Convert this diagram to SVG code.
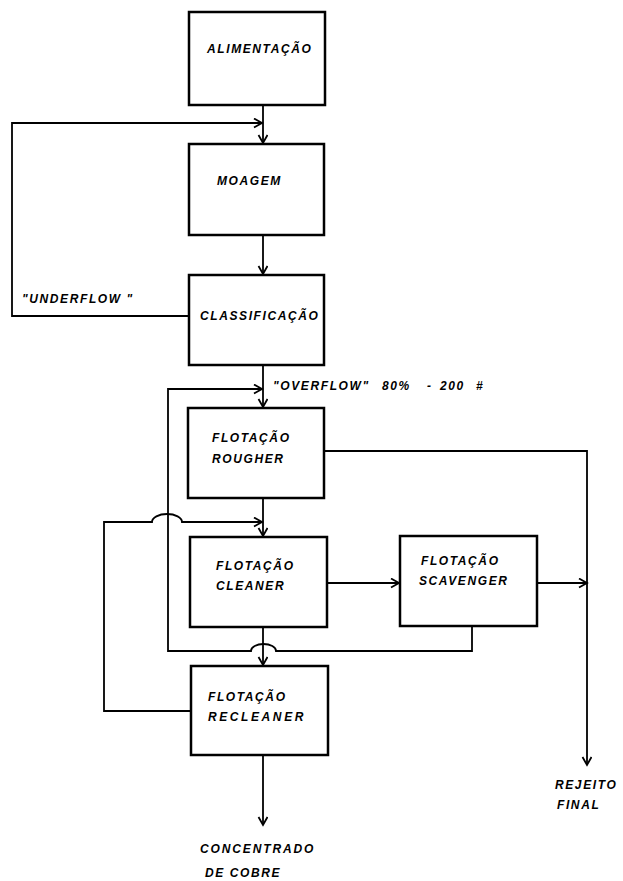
<svg xmlns="http://www.w3.org/2000/svg" width="623" height="881" viewBox="0 0 623 881">
<style>
.box{fill:#fff;stroke:#000;stroke-width:2.5}
.c{fill:none;stroke:#000;stroke-width:1.8}
text{font-family:"Liberation Sans",Arial,sans-serif;font-weight:bold;font-style:italic;font-size:12px;letter-spacing:1.6px;fill:#000}
</style>
<defs>
<marker id="ah" markerUnits="userSpaceOnUse" markerWidth="12" markerHeight="12" refX="9" refY="5" orient="auto">
<path d="M1,0.5 L9,5 L1,9.5" fill="none" stroke="#000" stroke-width="1.8"/>
</marker>
</defs>
<rect width="623" height="881" fill="#fff"/>
<g id="connectors">
<path class="c" d="M263,105 V143" marker-end="url(#ah)"/>
<path class="c" d="M189,316 H12 V123 H262" marker-end="url(#ah)"/>
<path class="c" d="M263,235 V274" marker-end="url(#ah)"/>
<path class="c" d="M263,365 V407" marker-end="url(#ah)"/>
<path class="c" d="M472,626 V651 H276 A12.5,7 0 0 0 251,651 H168 V389 H262" marker-end="url(#ah)"/>
<path class="c" d="M263,498 V536" marker-end="url(#ah)"/>
<path class="c" d="M190,711 H104 V522 H152 A15,8 0 0 1 182,522 H262" marker-end="url(#ah)"/>
<path class="c" d="M324,451 H587 V765" marker-end="url(#ah)"/>
<path class="c" d="M327,583 H399" marker-end="url(#ah)"/>
<path class="c" d="M537,583 H587" marker-end="url(#ah)"/>
<path class="c" d="M263,627 V665" marker-end="url(#ah)"/>
<path class="c" d="M263,755 V825" marker-end="url(#ah)"/>
</g>
<g id="alimentacao"><rect class="box" x="189" y="12" width="136" height="93"/><text x="207" y="53">ALIMENTAÇÃO</text></g>
<g id="moagem"><rect class="box" x="189" y="144" width="135" height="91"/><text x="217" y="185">MOAGEM</text></g>
<g id="classificacao"><rect class="box" x="189" y="275" width="135" height="90"/><text x="200" y="320">CLASSIFICAÇÃO</text></g>
<g id="rougher"><rect class="box" x="188" y="408" width="136" height="90"/><text x="212" y="442">FLOTAÇÃO</text><text x="212" y="463">ROUGHER</text></g>
<g id="cleaner"><rect class="box" x="190" y="537" width="137" height="90"/><text x="216" y="570">FLOTAÇÃO</text><text x="216" y="590">CLEANER</text></g>
<g id="scavenger"><rect class="box" x="400" y="536" width="137" height="90"/><text x="421" y="565">FLOTAÇÃO</text><text x="419" y="585">SCAVENGER</text></g>
<g id="recleaner"><rect class="box" x="191" y="666" width="137" height="89"/><text x="208" y="701">FLOTAÇÃO</text><text x="208" y="721" textLength="97">RECLEANER</text></g>
<g id="labels">
<text x="22" y="303">"UNDERFLOW "</text>
<text y="390"><tspan x="273">"OVERFLOW"</tspan><tspan x="382">80%</tspan><tspan x="427">-</tspan><tspan x="440">200</tspan><tspan x="476">#</tspan></text>
<text x="555" y="789">REJEITO</text>
<text x="557" y="809">FINAL</text>
<text x="200" y="853" textLength="115">CONCENTRADO</text>
<text x="205" y="877">DE COBRE</text>
</g>
</svg>
